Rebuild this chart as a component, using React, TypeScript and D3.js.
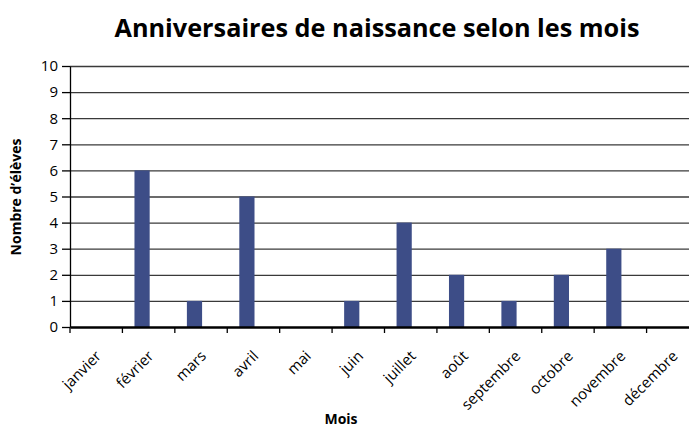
import React, { useRef, useEffect } from 'react'
import * as d3 from 'd3'

const months = ['janvier', 'février', 'mars', 'avril', 'mai', 'juin', 'juillet', 'août', 'septembre', 'octobre', 'novembre', 'décembre']
const students = [0, 6, 1, 5, 0, 1, 4, 2, 1, 2, 3, 0]
const yTicks = [0, 1, 2, 3, 4, 5, 6, 7, 8, 9, 10]

const title = 'Anniversaires de naissance selon les mois'
const xTitle = 'Mois'
const yTitle = 'Nombre d’élèves'

const App = () => {
  const svgRef = useRef<SVGSVGElement>(null)

  useEffect(() => {
    const svg = d3.select(svgRef.current)
    const width = 689
    const height = 428
    const font = '"Open Sans", sans-serif'
    const margin = { top: 66, left: 70, bottom: 101 }
    const plotRight = 699

    svg.selectAll('*').remove()

    const x = d3.scaleBand()
      .domain(months)
      .range([margin.left, plotRight])

    const y = d3.scaleLinear()
      .domain([0, 10])
      .range([height - margin.bottom, margin.top])

    // gridlines
    svg.append('g')
      .selectAll('line')
      .data(yTicks.filter(d => d > 0))
      .enter().append('line')
      .attr('x1', margin.left)
      .attr('x2', width)
      .attr('y1', d => y(d) + 0.5)
      .attr('y2', d => y(d) + 0.5)
      .attr('stroke', '#3a3a3a')
      .attr('stroke-width', 1.3)

    // bars
    const bw = x.bandwidth()
    svg.append('g')
      .selectAll('rect')
      .data(students)
      .enter().append('rect')
      .attr('x', (d, i) => x(months[i])! + bw * 0.23)
      .attr('y', d => y(d))
      .attr('width', bw * 0.29)
      .attr('height', d => y(0) - y(d))
      .attr('fill', '#3d4d87')

    // y axis
    const yAxis = svg.append('g')
      .attr('transform', `translate(${margin.left},0)`)
      .call(d3.axisLeft(y).tickValues(yTicks).tickSize(8).tickSizeOuter(0).tickFormat(d3.format('d')))
    yAxis.select('.domain').attr('stroke', '#000').attr('stroke-width', 1.3)
    yAxis.selectAll('.tick line').attr('stroke', '#000').attr('stroke-width', 1.3)
    yAxis.selectAll('.tick text')
      .attr('x', -12)
      .attr('font-family', font)
      .attr('font-size', 15)
      .attr('fill', '#000')

    // x axis
    const xAxis = svg.append('g')
      .attr('transform', `translate(0,${y(0)})`)
      .call(d3.axisBottom(x).tickSize(0).tickSizeOuter(0).tickFormat(() => ''))
    xAxis.select('.domain').attr('stroke', '#000').attr('stroke-width', 2.5)

    const tickPositions = months.map(m => x(m)!).concat([plotRight])
    svg.append('g')
      .selectAll('line')
      .data(tickPositions)
      .enter().append('line')
      .attr('x1', d => d)
      .attr('x2', d => d)
      .attr('y1', y(0))
      .attr('y2', y(0) + 6)
      .attr('stroke', '#000')
      .attr('stroke-width', 1.3)

    // month labels, rotated
    svg.append('g')
      .selectAll('text')
      .data(months)
      .enter().append('text')
      .attr('transform', d => `translate(${x(d)! + bw / 2 + 6},${y(0) + 30}) rotate(-45)`)
      .attr('text-anchor', 'end')
      .attr('font-family', font)
      .attr('font-size', 15)
      .attr('fill', '#000')
      .text(d => d)

    // titles
    svg.append('text')
      .attr('x', 377)
      .attr('y', 37)
      .attr('text-anchor', 'middle')
      .attr('font-family', font)
      .attr('font-weight', 'bold')
      .attr('font-size', 25)
      .attr('textLength', 525)
      .attr('lengthAdjust', 'spacingAndGlyphs')
      .text(title)

    svg.append('text')
      .attr('x', 341)
      .attr('y', 424)
      .attr('text-anchor', 'middle')
      .attr('font-family', font)
      .attr('font-weight', 'bold')
      .attr('font-size', 14)
      .text(xTitle)

    svg.append('text')
      .attr('transform', `translate(21,197) rotate(-90)`)
      .attr('text-anchor', 'middle')
      .attr('font-family', font)
      .attr('font-weight', 'bold')
      .attr('font-size', 14)
      .text(yTitle)
  }, [])

  return (
    <div style={{ position: 'absolute', left: 0, top: 0 }}>
      <svg ref={svgRef} width={689} height={428} style={{ display: 'block', background: '#fff' }}></svg>
    </div>
  )
}

export default App
